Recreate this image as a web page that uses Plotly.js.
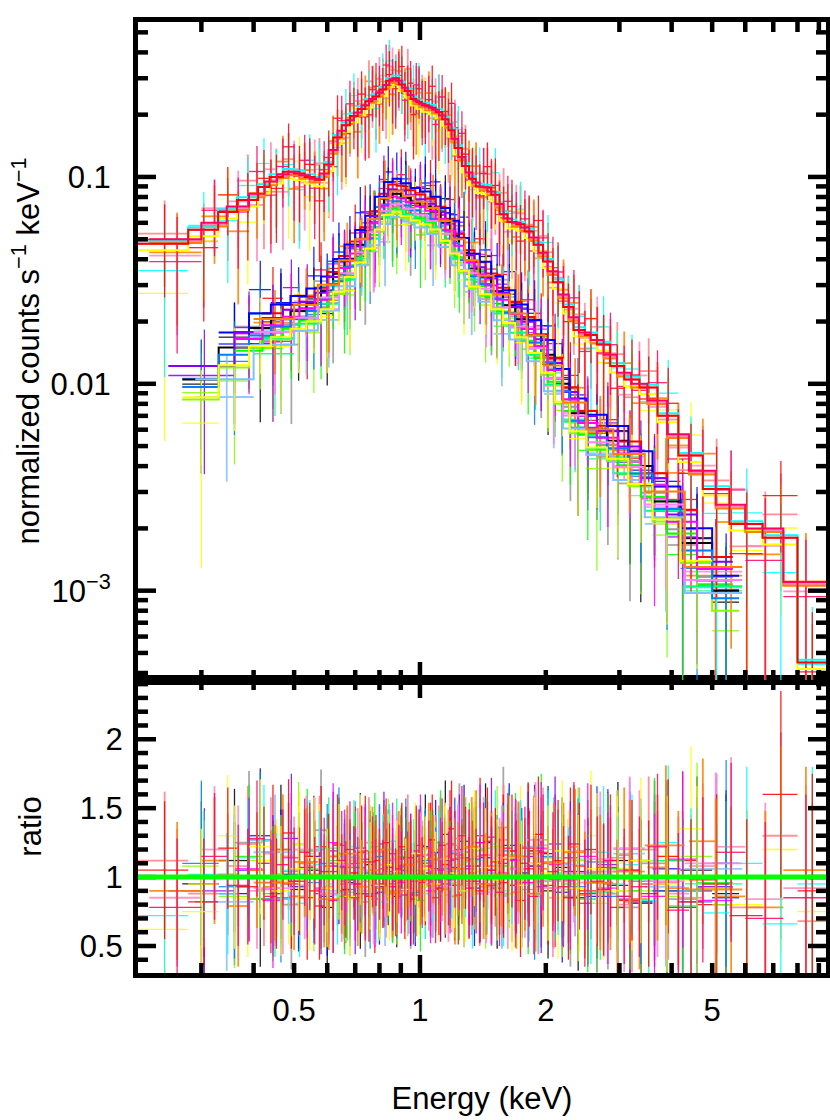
<!DOCTYPE html>
<html>
<head>
<meta charset="utf-8">
<script src="https://cdn.plot.ly/plotly-3.0.1.min.js"></script>
<style>
  body { margin: 0; background: #fff; }
  #spec { width: 830px; height: 1120px; }
</style>
</head>
<body>
<div id="spec"></div>
<script>
// bright group, binning A: edges (keV), model (counts/s/keV), relative errors
var upEdgesA = [0.211, 0.279, 0.329, 0.365, 0.41, 0.437, 0.47, 0.50, 0.53, 0.56, 0.59,
  0.62, 0.65, 0.68, 0.71, 0.74, 0.77, 0.80, 0.83, 0.86, 0.89, 0.92,
  0.95, 0.98, 1.01, 1.05, 1.09, 1.13, 1.17, 1.21, 1.26, 1.31, 1.36,
  1.42, 1.48, 1.55, 1.62, 1.70, 1.78, 1.87, 1.97, 2.08, 2.20, 2.33,
  2.48, 2.65, 2.85, 3.08, 3.35, 3.70, 4.15, 4.75, 5.5, 6.6, 8.0, 9.36];
var upModelA = [0.0475, 0.0555, 0.0677, 0.0774, 0.0895, 0.100, 0.106, 0.104, 0.100, 0.097, 0.115,
  0.155, 0.178, 0.197, 0.213, 0.232, 0.245, 0.265, 0.292, 0.300, 0.280, 0.260,
  0.238, 0.230, 0.222, 0.216, 0.206, 0.190, 0.168, 0.138, 0.113, 0.098, 0.090,
  0.089, 0.082, 0.066, 0.0605, 0.059, 0.0545, 0.047, 0.039, 0.031, 0.0235, 0.0182,
  0.0172, 0.0155, 0.0122, 0.0105, 0.0096, 0.0070, 0.0045, 0.0031, 0.0021, 0.0018, 0.00045];
// bright group, binning B
var upEdgesB = [0.225, 0.30, 0.345, 0.39, 0.425, 0.455, 0.485, 0.515, 0.545, 0.575, 0.605,
  0.635, 0.665, 0.695, 0.725, 0.755, 0.785, 0.815, 0.845, 0.875, 0.905, 0.935,
  0.965, 0.995, 1.03, 1.07, 1.11, 1.15, 1.19, 1.235, 1.285, 1.335, 1.39,
  1.45, 1.515, 1.585, 1.66, 1.74, 1.825, 1.92, 2.02, 2.14, 2.27, 2.40,
  2.56, 2.75, 2.96, 3.2, 3.5, 3.9, 4.4, 5.1, 6.0, 7.4, 9.36];
var upModelB = [0.050, 0.060, 0.072, 0.083, 0.095, 0.103, 0.106, 0.102, 0.098, 0.104, 0.135,
  0.167, 0.188, 0.205, 0.222, 0.238, 0.255, 0.278, 0.297, 0.292, 0.270, 0.249,
  0.234, 0.226, 0.219, 0.211, 0.198, 0.180, 0.153, 0.125, 0.105, 0.094, 0.0895,
  0.085, 0.074, 0.063, 0.060, 0.057, 0.051, 0.043, 0.035, 0.027, 0.021, 0.0177,
  0.0163, 0.0138, 0.0113, 0.0100, 0.0083, 0.0057, 0.0038, 0.0026, 0.0020, 0.0011];
var upErr = [0.50, 0.46, 0.44, 0.42, 0.41, 0.40, 0.39, 0.39, 0.39, 0.39, 0.38,
  0.36, 0.35, 0.34, 0.34, 0.33, 0.33, 0.32, 0.32, 0.32, 0.32, 0.32,
  0.33, 0.33, 0.33, 0.33, 0.34, 0.34, 0.35, 0.36, 0.37, 0.38, 0.38,
  0.39, 0.39, 0.40, 0.41, 0.41, 0.42, 0.42, 0.43, 0.44, 0.45, 0.46,
  0.47, 0.48, 0.49, 0.51, 0.53, 0.56, 0.60, 0.65, 0.70, 0.75, 0.85];

// faint group, binnings A, B, C
var loEdgesA = [0.27, 0.33, 0.39, 0.44, 0.49, 0.535, 0.58, 0.62, 0.66, 0.70, 0.74, 0.78, 0.82,
  0.86, 0.90, 0.95, 1.00, 1.06, 1.12, 1.18, 1.24, 1.31, 1.39, 1.48, 1.58,
  1.69, 1.81, 1.95, 2.10, 2.28, 2.50, 2.80, 3.15, 3.60, 4.20, 5.0, 5.8];
var loModelA = [0.0105, 0.0150, 0.0186, 0.0205, 0.0225, 0.0245, 0.028, 0.034, 0.040, 0.047, 0.055, 0.068,
  0.080, 0.083, 0.079, 0.075, 0.072, 0.068, 0.060, 0.052, 0.043, 0.036, 0.033, 0.028,
  0.024, 0.0205, 0.0172, 0.0138, 0.0100, 0.0072, 0.0060, 0.0053, 0.0040, 0.0027, 0.0017, 0.0010];
var loEdgesB = [0.25, 0.36, 0.42, 0.47, 0.515, 0.56, 0.60, 0.64, 0.68, 0.72, 0.76, 0.80,
  0.84, 0.88, 0.925, 0.975, 1.03, 1.09, 1.15, 1.21, 1.275, 1.35, 1.435, 1.53,
  1.635, 1.75, 1.88, 2.02, 2.19, 2.39, 2.65, 2.98, 3.38, 3.9, 4.6, 5.6];
var loModelB = [0.0115, 0.0168, 0.0196, 0.0215, 0.0235, 0.026, 0.031, 0.037, 0.0435, 0.051, 0.061, 0.074,
  0.082, 0.081, 0.077, 0.0735, 0.070, 0.064, 0.056, 0.0475, 0.0395, 0.0345, 0.0305, 0.026,
  0.0222, 0.0188, 0.0155, 0.0119, 0.0086, 0.0066, 0.0056, 0.0047, 0.0033, 0.0022, 0.0013];
var loEdgesC = [0.29, 0.40, 0.50, 0.57, 0.64, 0.70, 0.75, 0.80, 0.85, 0.91, 0.97, 1.04, 1.11,
  1.19, 1.28, 1.38, 1.50, 1.64, 1.80, 1.98, 2.20, 2.50, 2.90, 3.45, 4.3, 5.9];
var loModelC = [0.0135, 0.0198, 0.0232, 0.029, 0.038, 0.048, 0.060, 0.076, 0.082, 0.078, 0.073, 0.068,
  0.059, 0.048, 0.038, 0.032, 0.026, 0.021, 0.0165, 0.0118, 0.0078, 0.0058, 0.0044, 0.0029, 0.00125];
var loErr = [0.60, 0.52, 0.49, 0.47, 0.45, 0.44, 0.43, 0.42, 0.41, 0.40, 0.39, 0.38,
  0.37, 0.37, 0.37, 0.37, 0.38, 0.38, 0.39, 0.40, 0.41, 0.42, 0.43, 0.44,
  0.45, 0.47, 0.48, 0.49, 0.51, 0.53, 0.55, 0.57, 0.60, 0.64, 0.68, 0.75];
var loErrC = [0.50, 0.42, 0.39, 0.37, 0.35, 0.34, 0.33, 0.32, 0.31, 0.31, 0.31, 0.32,
  0.33, 0.34, 0.36, 0.37, 0.38, 0.40, 0.42, 0.44, 0.46, 0.49, 0.52, 0.58, 0.66];

// data/model ratios, bright group
var upRed = [1.05,0.82,1.21,0.93,1.10,0.88,1.32,0.97,1.15,0.79,1.08,
  1.24,0.91,1.03,1.18,0.86,1.12,0.95,1.07,0.89,1.22,1.01,
  0.84,1.16,0.98,1.27,0.92,1.09,1.35,0.87,1.14,1.03,0.90,
  1.26,1.11,0.96,1.19,0.83,1.06,1.31,0.94,1.12,0.85,1.08,
  1.20,0.91,0.78,1.05,0.88,1.15,0.82,0.95,0.72,1.60,0.90];
var upPink = [0.78,1.15,0.94,1.28,0.86,1.09,0.97,1.18,0.90,1.04,0.83,
  1.12,1.20,0.95,0.88,1.11,1.02,1.25,0.93,1.06,0.87,1.14,
  1.19,0.96,1.08,0.85,1.23,0.99,1.13,1.30,0.92,0.97,1.16,
  1.05,0.89,1.21,1.00,1.10,0.86,1.18,1.04,0.93,1.24,0.81,
  0.97,1.12,0.86,0.93,1.22,0.76,0.98,1.18,0.70,0.85,1.40];
var upCyan = [0.72,1.02,0.88,1.14,1.26,0.92,1.05,0.81,1.17,1.09,0.95,
  0.87,1.10,1.22,0.97,1.04,0.85,1.13,1.21,0.94,1.02,0.89,
  1.09,1.17,0.88,1.01,1.14,0.93,1.05,1.19,1.08,0.86,1.12,
  0.98,1.24,0.90,1.07,1.15,0.95,0.88,1.20,1.02,0.91,1.13,
  0.84,1.18,0.95,1.09,0.83,1.25,0.90,0.74,1.10,0.66,0.95];
var upOrange = [0.90,1.12,0.79,1.05,0.93,1.20,0.86,1.10,1.02,0.88,1.15,
  0.95,1.07,0.84,1.11,1.18,0.92,1.03,0.88,1.16,0.97,1.09,
  0.90,1.04,1.21,0.94,1.06,1.15,0.86,1.02,1.12,1.25,0.93,
  1.08,0.97,1.13,0.89,1.02,1.17,1.06,0.92,1.10,1.22,0.87,
  1.04,0.95,1.16,0.84,1.07,0.92,1.26,0.86,0.78,1.05,0.70];
var upYellow = [0.62,0.95,1.30,0.84,1.12,1.02,0.90,1.23,0.86,1.14,0.98,
  1.06,0.89,1.17,1.00,0.93,1.08,1.14,0.86,1.02,1.10,0.95,
  1.05,0.91,1.13,1.03,0.88,1.20,0.97,1.09,0.90,1.16,1.05,
  0.94,1.12,1.01,0.87,1.25,0.96,1.09,1.14,0.85,1.03,0.92,
  1.30,0.88,1.10,0.98,0.83,1.15,1.35,0.92,0.80,1.20,0.75];
var upSalmon = [1.12,0.88,1.02,1.24,0.91,0.97,1.15,0.86,1.08,1.20,0.93,
  1.01,0.87,1.12,1.06,1.25,0.95,1.09,1.17,0.98,1.04,1.28,
  0.92,1.11,1.03,0.89,1.18,1.07,0.95,1.14,1.21,1.00,0.88,
  1.16,1.03,1.27,0.94,1.13,1.08,0.86,1.11,1.05,0.97,1.19,
  1.02,0.90,1.14,0.82,1.20,0.96,0.85,1.10,0.78,1.30,0.68];
var upLight = [0.85,1.20,1.08,0.90,1.17,0.84,1.05,0.94,1.19,0.92,1.10,
  0.89,1.03,1.16,0.90,1.07,1.19,0.88,1.13,1.05,0.92,1.01,
  1.17,1.08,0.94,1.12,1.02,0.87,1.23,1.06,0.95,1.13,1.20,
  0.91,1.04,0.88,1.15,0.97,1.10,1.23,0.85,1.01,1.12,0.96,
  1.18,1.04,0.80,1.12,0.95,0.88,1.08,1.22,0.84,0.92,1.10];

// data/model ratios, faint group
var loBlack = [0.95,1.12,0.84,1.20,0.91,1.05,0.78,1.15,0.98,0.88,1.09,0.93,
  1.02,0.86,1.14,0.97,1.22,1.06,1.31,0.94,1.18,1.08,1.25,0.92,
  1.13,1.03,1.19,0.90,1.07,0.85,0.96,1.12,0.82,0.90,1.05,0.88];
var loGray = [null,1.25,0.92,0.80,1.10,1.34,0.88,0.97,1.14,0.82,1.02,1.18,
  0.90,1.07,0.85,1.12,0.95,1.20,1.04,1.28,0.99,1.15,0.93,1.36,
  1.06,1.22,0.97,1.11,0.86,1.03,0.88,0.78,1.10,0.84,0.92,null];
var loRed = [null,null,1.18,0.95,0.85,1.22,1.04,0.90,1.10,1.19,0.84,1.06,
  0.95,1.13,0.88,1.02,1.16,0.91,1.24,1.09,0.97,1.30,1.05,1.16,
  0.94,1.21,1.10,0.98,1.14,0.90,1.07,0.83,0.95,1.12,0.80,null];
var loBlue = [null,0.88,1.30,1.02,0.93,1.15,0.86,1.08,0.96,1.21,1.03,0.89,
  1.12,0.97,1.05,0.87,1.10,1.18,0.95,1.07,1.26,0.92,1.14,1.01,
  1.23,0.96,1.08,1.17,0.89,1.04,0.86,0.94,0.81,1.06,0.90,0.85];
var loPurple = [0.90,1.05,0.96,1.28,1.07,0.88,1.19,1.00,0.85,1.11,0.94,1.24,
  0.99,1.08,0.87,1.15,1.03,0.92,1.12,1.20,1.06,0.95,1.29,1.10,
  1.01,1.15,0.93,1.24,1.04,0.88,1.09,0.84,1.00,0.78,0.93,0.87];
var loLime = [1.08,0.86,1.12,0.98,1.24,0.90,1.03,1.16,0.84,1.00,1.13,0.92,
  1.20,0.88,1.06,1.14,0.93,1.02,1.10,0.96,1.18,1.04,0.91,1.22,
  1.08,0.97,1.14,1.02,0.93,1.12,0.81,1.06,0.90,0.86,1.15,0.80];
var loGreen = [null,1.15,0.88,1.04,1.19,0.91,1.12,0.86,1.07,0.97,1.22,1.01,
  0.89,1.15,1.05,0.83,1.10,1.25,1.02,0.94,1.13,1.19,0.98,1.08,
  1.16,0.91,1.27,1.03,0.95,0.84,1.06,0.90,1.12,0.79,0.96,null];
var loSpring = [null,0.84,1.06,1.21,0.89,1.03,1.14,0.95,1.26,0.90,1.05,1.17,
  0.92,0.99,1.11,1.21,0.87,1.06,0.96,1.14,1.03,0.89,1.20,1.12,
  0.95,1.07,1.18,0.92,1.09,1.00,0.87,1.13,0.94,1.03,0.85,null];
var loAzure = [1.10,0.93,1.27,0.85,1.02,0.96,1.10,1.23,0.91,1.07,0.87,1.15,
  1.04,0.93,1.20,0.89,1.12,0.98,1.06,1.17,0.90,1.13,1.07,0.95,
  1.19,1.03,0.88,1.15,1.01,0.93,1.11,0.86,0.97,0.90,0.82,1.10];
var loSky = [0.82,1.18,1.00,0.90,1.15,1.05,0.93,0.82,1.16,1.02,1.20,0.88,
  1.07,1.18,0.94,1.03,0.86,1.14,1.22,0.97,1.09,1.02,1.17,0.93,
  1.06,1.26,1.00,0.90,1.14,0.97,0.84,1.04,0.92,0.76,1.02,null];
var loMagenta = [null,1.06,0.83,1.14,1.01,0.92,1.25,1.07,0.95,1.13,0.88,1.02,
  1.17,0.96,1.09,1.23,0.90,1.05,0.98,1.16,1.08,1.25,0.94,1.03,
  1.12,0.96,1.21,1.09,0.98,1.15,0.92,1.05,0.86,1.13,0.83,0.90];
var loViolet = [null,0.92,1.20,0.88,1.09,1.17,0.84,1.03,1.12,0.90,1.16,1.05,
  0.93,1.19,1.01,0.89,1.14,1.06,1.27,0.92,1.03,1.13,1.21,0.97,
  1.10,1.24,0.93,1.05,1.17,0.88,1.02,0.94,1.18,0.85,0.92,null];
var loYellow = [0.75,1.00,1.22,0.90,1.06,1.14,0.92,1.11,0.86,1.20,1.01,0.94,
  1.09,1.04,0.91,1.17,1.06,0.95,1.13,1.03,0.90,1.21,1.07,0.98,
  1.14,0.94,1.10,1.03,1.19,0.92,1.06,0.90,1.12,0.95,0.98,null];
var loOrange = [null,0.96,1.11,0.84,1.17,0.93,1.05,1.20,0.89,1.09,0.97,1.13,
  0.91,1.06,1.22,0.95,1.02,1.15,0.88,1.10,1.18,0.96,1.04,1.23,
  0.91,1.11,0.99,1.16,0.94,1.06,0.88,1.02,0.92,1.08,0.95,null];

// spectra: ratios, binning, normalisation, colour
var loSets = [loBlack, loGray, loRed, loBlue, loPurple, loLime, loGreen, loSpring, loAzure, loSky, loMagenta, loViolet, loYellow, loOrange];
var loBin = ['A', 'B', 'B', 'A', 'B', 'A', 'B', 'C', 'A', 'C', 'B', 'C', 'A', 'C'];
var loNorm = [1.00, 0.90, 1.12, 1.18, 1.06, 0.80, 0.86, 0.84, 0.92, 0.78, 0.98, 0.90, 0.82, 1.04];
var loColors = ['#000000', '#999999', '#ff0000', '#0000ff', '#8000ff', '#80ff00', '#00ff00', '#00ff80',
  '#0080ff', '#80c0ff', '#ff00ff', '#ff80ff', '#ffff00', '#ff8000'];
var upSets = [upSalmon, upLight, upYellow, upOrange, upCyan, upRed, upPink];
var upBin = ['A', 'B', 'A', 'B', 'A', 'A', 'B'];
var upNorm = [1.00, 0.98, 0.93, 0.96, 1.03, 1.00, 1.00];
var upColors = ['#ff8080', '#ff88bb', '#ffff00', '#ff8000', '#00ffff', '#ff0000', '#ff0066'];

var binnings = {
  upA: {edges: upEdgesA, model: upModelA, err: upErr},
  upB: {edges: upEdgesB, model: upModelB, err: upErr},
  loA: {edges: loEdgesA, model: loModelA, err: loErr},
  loB: {edges: loEdgesB, model: loModelB, err: loErr},
  loC: {edges: loEdgesC, model: loModelC, err: loErrC}
};

function spectrum(bin, norm, ratio, color) {
  var edges = bin.edges, model = bin.model, err = bin.err;
  var x = [], xm = [], xp = [], y = [], ey = [], r = [], er = [], sx = [], sy = [];
  var last = -1;
  for (var i = 0; i < model.length; i++) {
    if (ratio[i] == null) continue;
    var a = edges[i], b = edges[i + 1], c = (a + b) / 2, m = model[i] * norm;
    x.push(c); xm.push(c - a); xp.push(b - c);
    y.push(m * ratio[i]); ey.push(m * err[i]);
    r.push(ratio[i]); er.push(err[i]);
    sx.push(a); sy.push(m);
    last = i;
  }
  sx.push(edges[last + 1]); sy.push(model[last] * norm);

  var pale = /^#ff8|^#80c|^#999/.test(color);
  var th = pale ? 1.8 : 1.3;
  var ex = {type: 'data', symmetric: false, array: xp, arrayminus: xm, width: 0, thickness: th, color: color};
  return {
    data: {x: x, y: y, xaxis: 'x2', yaxis: 'y2', type: 'scatter', mode: 'markers',
      marker: {size: 1, color: color}, opacity: 0.85, error_x: ex,
      error_y: {type: 'data', array: ey, width: 0, thickness: th, color: color}},
    model: {x: sx, y: sy, xaxis: 'x2', yaxis: 'y2', type: 'scatter', mode: 'lines',
      line: {shape: 'hv', color: color, width: 2}},
    ratio: {x: x, y: r, xaxis: 'x', yaxis: 'y', type: 'scatter', mode: 'markers',
      marker: {size: 1, color: color}, opacity: 0.85, error_x: ex,
      error_y: {type: 'data', array: er, width: 0, thickness: th, color: color}}
  };
}

var lo = loSets.map(function (s, k) { return spectrum(binnings['lo' + loBin[k]], loNorm[k], s, loColors[k]); });
var up = upSets.map(function (s, k) { return spectrum(binnings['up' + upBin[k]], upNorm[k], s, upColors[k]); });

var dataTraces = [], modelTraces = [], ratioTraces = [];
lo.concat(up).forEach(function (s) { dataTraces.push(s.data); modelTraces.push(s.model); });
for (var k = 0; k < lo.length; k++) {
  ratioTraces.push(lo[k].ratio);
  if (k % 2 === 1 && up[(k - 1) / 2]) ratioTraces.push(up[(k - 1) / 2].ratio);
}

// axes geometry
var eMin = 0.2116, eMax = 9.36;
var topMin = 3.7e-4, topMax = 0.561;
var botMin = 0.304, botMax = 2.43;
var split = 0.3081;
var plotW = 688, plotH = 951;
var family = 'Liberation Sans, Arial, sans-serif';
var tickFont = {family: family, size: 31, color: '#000'};
var titleFont = {family: family, size: 31, color: '#000'};

var axisBase = {
  showline: true, linewidth: 5, linecolor: '#000', mirror: true,
  ticks: '', showgrid: false, zeroline: false, tickfont: tickFont
};
function ax(extra) { return Object.assign({}, axisBase, extra); }

var layout = {
  width: 830, height: 1120,
  margin: {l: 138, r: 4, t: 22, b: 147},
  paper_bgcolor: '#fff', plot_bgcolor: '#fff',
  showlegend: false, font: tickFont,
  xaxis: ax({
    type: 'log', range: [Math.log10(eMin), Math.log10(eMax)], anchor: 'y',
    tickmode: 'array', tickvals: [0.5, 1, 2, 5], ticktext: ['0.5', '1', '2', '5'],
    ticklabelstandoff: 6,
    title: {text: 'Energy (keV)', font: titleFont, standoff: 62}
  }),
  xaxis2: ax({
    type: 'log', range: [Math.log10(eMin), Math.log10(eMax)], anchor: 'y2', matches: 'x',
    showticklabels: false
  }),
  yaxis: ax({
    domain: [0, split], range: [botMin, botMax], anchor: 'x',
    tickmode: 'array', tickvals: [0.5, 1, 1.5, 2], ticktext: ['0.5', '1', '1.5', '2'],
    ticklabelstandoff: 4,
    title: {text: 'ratio', font: titleFont, standoff: 30}
  }),
  yaxis2: ax({
    domain: [split, 1], type: 'log', range: [Math.log10(topMin), Math.log10(topMax)], anchor: 'x2',
    tickmode: 'array', tickvals: [0.001, 0.01, 0.1], ticktext: ['10<sup>\u22123</sup>', '0.01', '0.1'],
    ticklabelstandoff: 16,
    title: {text: 'normalized counts s<sup>\u22121</sup> keV<sup>\u22121</sup>', font: titleFont, standoff: 3}
  }),
  shapes: []
};

// bold inward tick marks on every frame edge
var tickW = 4.5, longLen = 18, shortLen = 10;
function tick(x0, y0, x1, y1) {
  layout.shapes.push({type: 'line', xref: 'paper', yref: 'paper', x0: x0, y0: y0, x1: x1, y1: y1,
    line: {color: '#000', width: tickW}, layer: 'above'});
}
var xTicks = [[0.3, shortLen], [0.4, shortLen], [0.5, shortLen], [0.6, shortLen], [0.7, shortLen],
  [0.8, shortLen], [0.9, shortLen], [1, longLen], [2, shortLen], [3, shortLen], [4, shortLen],
  [5, shortLen], [6, shortLen], [7, shortLen], [8, shortLen], [9, shortLen]];
xTicks.forEach(function (t) {
  var px = (Math.log10(t[0]) - Math.log10(eMin)) / (Math.log10(eMax) - Math.log10(eMin));
  var d = t[1] / plotH;
  tick(px, 0, px, d);
  tick(px, split, px, split - d);
  tick(px, split, px, split + d);
  tick(px, 1, px, 1 - d);
});
var yTopTicks = [];
[0.0001, 0.001, 0.01, 0.1].forEach(function (dec) {
  for (var m = 1; m <= 9; m++) {
    var v = m * dec;
    if (v > topMin && v < topMax) yTopTicks.push([v, m === 1 ? longLen : shortLen]);
  }
});
yTopTicks.forEach(function (t) {
  var py = split + (1 - split) * (Math.log10(t[0]) - Math.log10(topMin)) / (Math.log10(topMax) - Math.log10(topMin));
  var d = t[1] / plotW;
  tick(0, py, d, py);
  tick(1, py, 1 - d, py);
});
for (var v10 = 4; v10 <= 24; v10++) {
  var py = split * (v10 / 10 - botMin) / (botMax - botMin);
  var d = (v10 % 5 === 0 ? longLen : shortLen) / plotW;
  tick(0, py, d, py);
  tick(1, py, 1 - d, py);
}

// unity line in the ratio panel
layout.shapes.push({type: 'line', xref: 'paper', yref: 'y', x0: 0, x1: 1, y0: 1, y1: 1,
  line: {color: '#00ff00', width: 5}, layer: 'above'});

Plotly.newPlot('spec', dataTraces.concat(modelTraces, ratioTraces), layout, {staticPlot: true});
</script>
</body>
</html>
